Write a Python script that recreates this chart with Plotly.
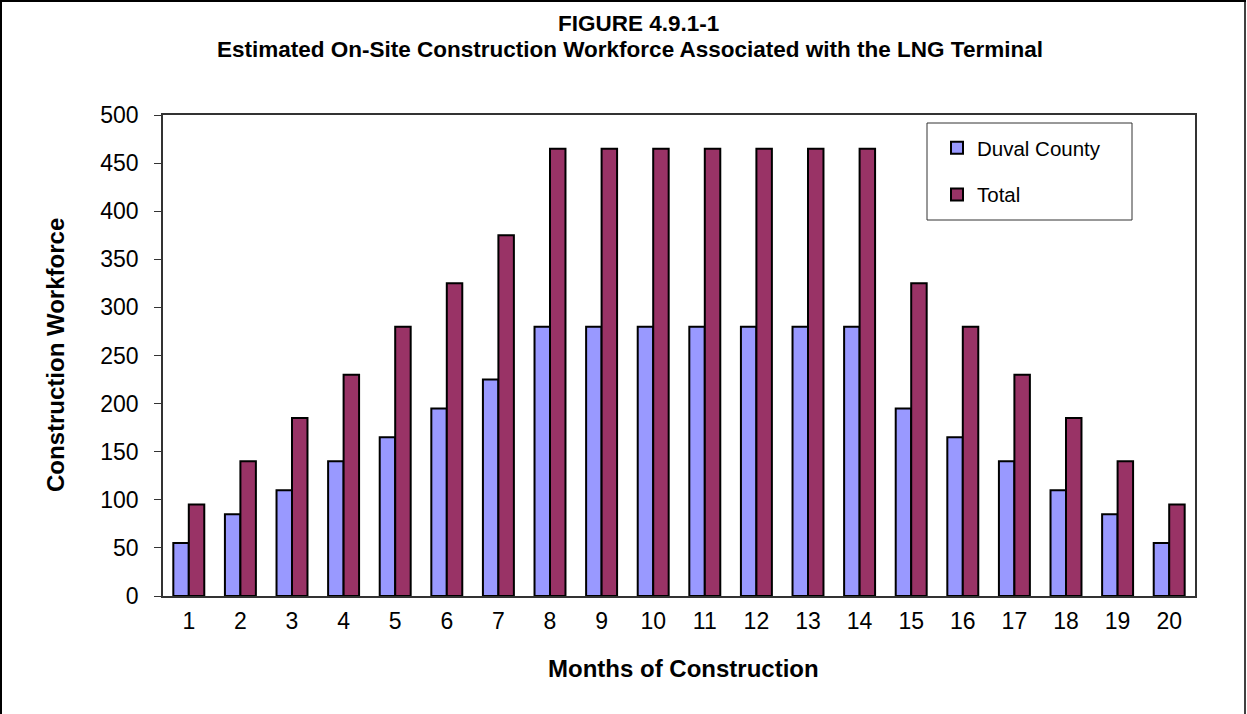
import plotly.graph_objects as go

months = [str(i) for i in range(1, 21)]
duval = [55, 85, 110, 140, 165, 195, 225, 280, 280, 280, 280, 280, 280, 280, 195, 165, 140, 110, 85, 55]
total = [95, 140, 185, 230, 280, 325, 375, 465, 465, 465, 465, 465, 465, 465, 325, 280, 230, 185, 140, 95]
y_ticks = [0, 50, 100, 150, 200, 250, 300, 350, 400, 450, 500]

FONT = "Liberation Sans, Arial, sans-serif"
W, H = 1247, 714
L, R, T, B = 163, 52, 115, 118
PW, PH = W - L - R, H - T - B

def px(x):
    return (x - L) / PW

def py(y):
    return (H - B - y) / PH

fig = go.Figure()
fig.add_trace(go.Bar(x=months, y=duval, name="Duval County",
                     marker=dict(color="#9999FF", line=dict(color="black", width=2)),
                     legendgroup="a"))
fig.add_trace(go.Bar(x=months, y=total, name="Total",
                     marker=dict(color="#993366", line=dict(color="black", width=2)),
                     legendgroup="b"))

fig.update_layout(
    width=W, height=H,
    margin=dict(l=L, r=R, t=T, b=B, pad=0),
    paper_bgcolor="white", plot_bgcolor="white",
    barmode="group", bargap=0.4, bargroupgap=0,
    font=dict(family=FONT, color="black"),
    showlegend=True,
    legend=dict(x=px(937), y=py(128), xanchor="left", yanchor="top",
                borderwidth=0, bgcolor="rgba(0,0,0,0)",
                font=dict(size=20.5, family=FONT), tracegroupgap=17,
                traceorder="grouped", itemsizing="constant"),
    xaxis=dict(type="category", showline=True, linecolor="#333333", linewidth=1.5,
               mirror=True, ticks="", tickfont=dict(size=23, family=FONT),
               showgrid=False, ticklabelstandoff=4),
    yaxis=dict(range=[0, 500], tickvals=y_ticks, showline=True, linecolor="#333333",
               linewidth=1.5, mirror=True, ticks="outside", ticklen=7,
               tickcolor="#333333", tickfont=dict(size=23, family=FONT),
               showgrid=False, zeroline=False, ticklabelstandoff=11),
)

# legend frame
fig.add_shape(type="rect", xref="paper", yref="paper",
              x0=px(927), x1=px(1132), y0=py(220), y1=py(123),
              line=dict(color="#333333", width=1), fillcolor="rgba(0,0,0,0)", layer="above")

fig.add_annotation(text="<b>FIGURE 4.9.1-1</b>", xref="paper", yref="paper",
                   x=px(638), y=py(24), xanchor="center", yanchor="middle",
                   showarrow=False, font=dict(size=22.5, family=FONT))
fig.add_annotation(text="<b>Estimated On-Site Construction Workforce Associated with the LNG Terminal</b>",
                   xref="paper", yref="paper",
                   x=px(630), y=py(49), xanchor="center", yanchor="middle",
                   showarrow=False, font=dict(size=22.5, family=FONT))
fig.add_annotation(text="<b>Months of Construction</b>", xref="paper", yref="paper",
                   x=px(683), y=py(668), xanchor="center", yanchor="middle",
                   showarrow=False, font=dict(size=24, family=FONT))
fig.add_annotation(text="<b>Construction Workforce</b>", xref="paper", yref="paper",
                   x=px(55), y=py(355), xanchor="center", yanchor="middle",
                   textangle=-90, showarrow=False, font=dict(size=24, family=FONT))

# outer frame of the figure
fig.add_shape(type="line", xref="paper", yref="paper", x0=px(1), x1=px(1), y0=py(-5), y1=py(720),
              line=dict(color="black", width=2))
fig.add_shape(type="line", xref="paper", yref="paper", x0=px(0), x1=px(1246), y0=py(1), y1=py(1),
              line=dict(color="black", width=2))
fig.add_shape(type="line", xref="paper", yref="paper", x0=px(1245), x1=px(1245), y0=py(-5), y1=py(720),
              line=dict(color="black", width=1.5))

fig.write_html("out.html", config={"displayModeBar": False},
               post_script="document.body.style.margin='0px';document.body.style.overflow='hidden';")
